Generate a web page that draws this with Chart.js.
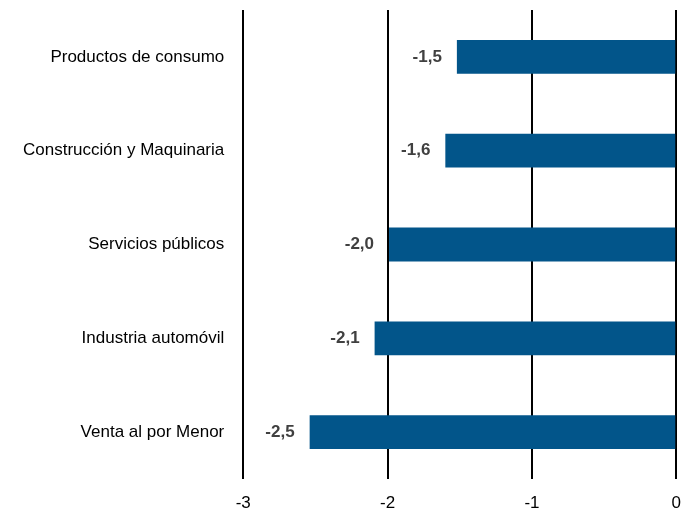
<!DOCTYPE html>
<html>
<head>
<meta charset="utf-8">
<script src="https://cdn.jsdelivr.net/npm/chart.js@4"></script>
<style>
  html, body { margin: 0; padding: 0; background: #fff; }
  #wrap { width: 695px; height: 513px; }
</style>
</head>
<body>
<div id="wrap"><canvas id="sectorChart" width="695" height="513"></canvas></div>
<script>
const sectors = [
  "Productos de consumo",
  "Construcción y Maquinaria",
  "Servicios públicos",
  "Industria automóvil",
  "Venta al por Menor",
];
const changes = [-1.52, -1.6, -1.99, -2.09, -2.54];
const xTicks = [-3, -2, -1, 0];

const FONT = "'Liberation Sans Narrow', 'Arial Narrow', 'Liberation Sans', Arial, sans-serif";

// bold value labels to the left of each bar
const valueLabels = {
  id: "valueLabels",
  afterDatasetsDraw(chart) {
    const ctx = chart.ctx;
    const meta = chart.getDatasetMeta(0);
    ctx.save();
    ctx.font = "bold 17px " + FONT;
    ctx.fillStyle = "#404040";
    ctx.textAlign = "right";
    ctx.textBaseline = "middle";
    meta.data.forEach((bar, i) => {
      const txt = changes[i].toFixed(1).replace(".", ",");
      ctx.fillText(txt, bar.x - 15, bar.y);
    });
    ctx.restore();
  },
};

const ctx = document.getElementById("sectorChart").getContext("2d");
const sectorChart = new Chart(ctx, {
  type: "bar",
  data: {
    labels: sectors,
    datasets: [
      {
        data: changes,
        backgroundColor: "#02558a",
        categoryPercentage: 1,
        barPercentage: 0.36,
      },
    ],
  },
  options: {
    indexAxis: "y",
    responsive: false,
    animation: false,
    layout: { padding: { top: 10, right: 10, left: 12, bottom: 0 } },
    plugins: {
      legend: { display: false },
      tooltip: { enabled: false },
    },
    scales: {
      x: {
        min: -3,
        max: 0,
        afterBuildTicks(scale) {
          scale.ticks = xTicks.map((v) => ({ value: v }));
        },
        afterFit(scale) {
          scale.height = 34;
        },
        grid: {
          color: "#000",
          lineWidth: 2,
          drawTicks: false,
        },
        border: { display: false },
        ticks: {
          padding: 14,
          color: "#000",
          font: { family: FONT, size: 17 },
          callback: (v) => String(v),
        },
      },
      y: {
        grid: { display: false },
        border: { display: false },
        afterFit(scale) {
          scale.paddingTop = 0;
          scale.paddingBottom = 0;
        },
        ticks: {
          padding: 11,
          color: "#000",
          font: { family: FONT, size: 17 },
        },
      },
    },
  },
  plugins: [valueLabels],
});
</script>
</body>
</html>
